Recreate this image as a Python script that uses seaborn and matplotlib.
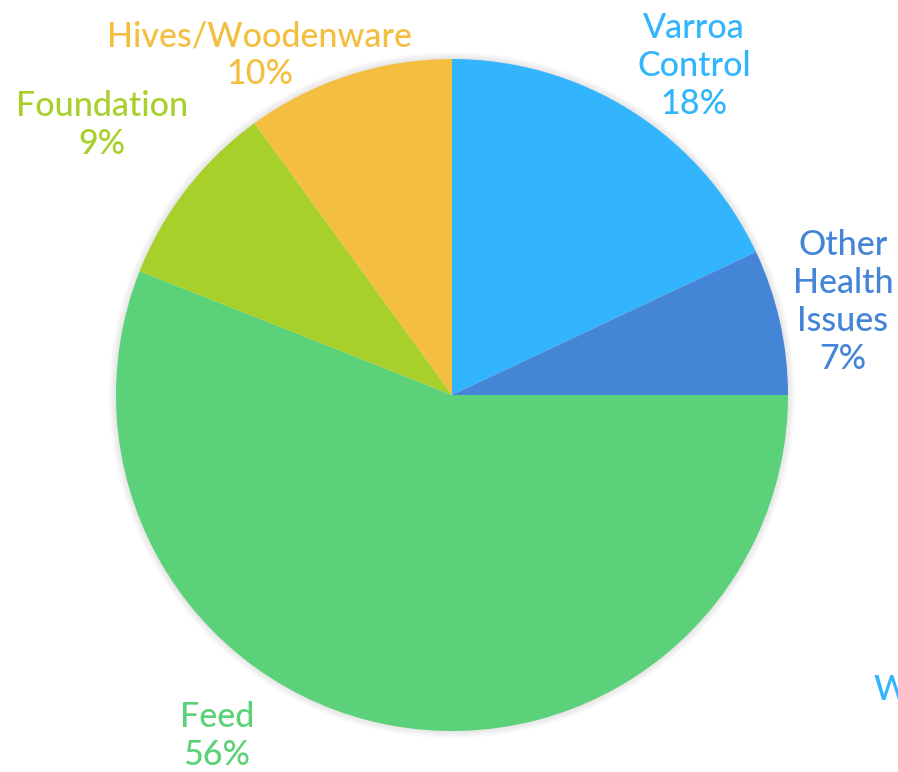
# -*- coding: utf-8 -*-
"""
Pie chart of beekeeping expense shares
"""
import matplotlib
matplotlib.use('Agg')
import matplotlib.pyplot as plt
import seaborn as sns

# -- DATA --
CATEGORIES = ['Varroa\nControl', 'Other\nHealth\nIssues', 'Feed', 'Foundation', 'Hives/Woodenware']
SHARES = [18, 7, 56, 9, 10]
COLORS = ['#33B5FE', '#4585D6', '#5BD17A', '#A7D12A', '#F4BF40']

# label centres in pixels (x, y from top)
LABEL_POS = [(694, 66), (843, 302), (217, 736), (102, 125), (260, 55)]

W, H = 898, 772
CENTER = (452, H - 395)
RADIUS = 336


def main():
    sns.set_theme(style="white")
    plt.rcParams['font.family'] = ['Lato', 'DejaVu Sans']

    fig = plt.figure(figsize=(W / 100, H / 100), dpi=100)
    ax = fig.add_axes([0, 0, 1, 1])

    # soft shadow round the pie
    for i in range(5):
        circ = plt.Circle(CENTER, RADIUS + 1 + i * 1.5, color='#000000', alpha=0.02, lw=0, zorder=0)
        ax.add_patch(circ)

    ax.pie(SHARES, colors=COLORS, startangle=90, counterclock=False,
           center=CENTER, radius=RADIUS, frame=True,
           wedgeprops=dict(linewidth=0, zorder=1))
    ax.set_xlim(0, W)
    ax.set_ylim(0, H)
    ax.set_aspect('equal')
    ax.axis('off')

    for cat, val, col, (x, y) in zip(CATEGORIES, SHARES, COLORS, LABEL_POS):
        ax.text(x, H - y, f"{cat}\n{val}%", color=col, fontsize=24.5, fontweight=500,
                ha='center', va='center', linespacing=1.22)

    # cut-off label at the right edge
    ax.text(874, H - 690, "W", color=COLORS[0], fontsize=24.5, fontweight=500,
            ha='left', va='center')

    fig.savefig('out.png', dpi=100)
    plt.close(fig)


if __name__ == '__main__':
    main()
